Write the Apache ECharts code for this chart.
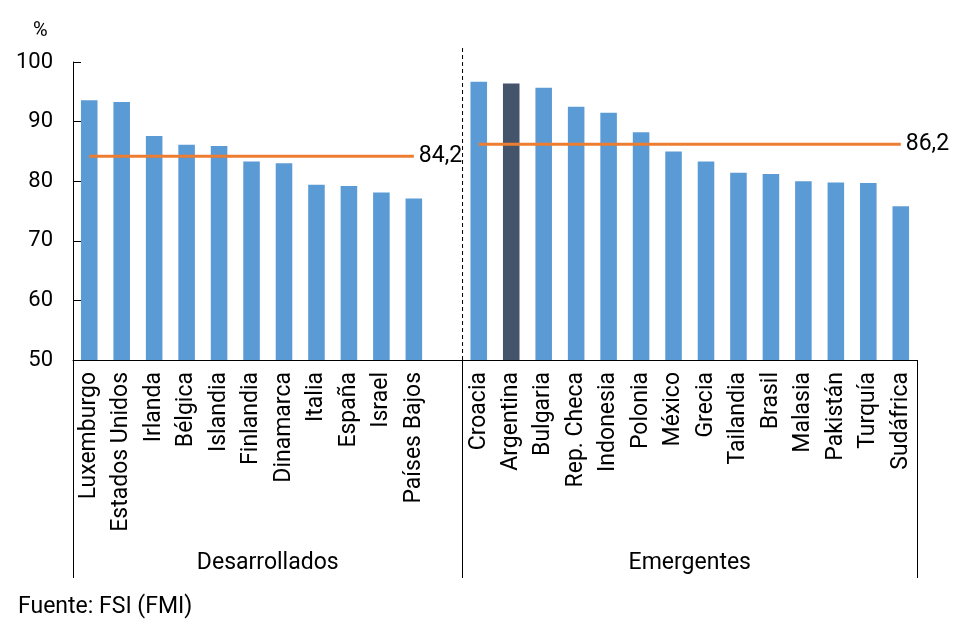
<!DOCTYPE html>
<html>
<head>
<meta charset="utf-8">
<script src="https://cdn.jsdelivr.net/npm/echarts@6/dist/echarts.min.js"></script>
<style>html,body{margin:0;padding:0;background:#fff}#c{width:960px;height:636px}</style>
</head>
<body>
<div id="c"></div>
<script>
// ---- data ----
var devCountries = ['Luxemburgo','Estados Unidos','Irlanda','Bélgica','Islandia','Finlandia','Dinamarca','Italia','España','Israel','Países Bajos'];
var devValues = [93.6, 93.3, 87.6, 86.1, 85.9, 83.3, 83.0, 79.4, 79.2, 78.1, 77.1];
var emCountries = ['Croacia','Argentina','Bulgaria','Rep. Checa','Indonesia','Polonia','México','Grecia','Tailandia','Brasil','Malasia','Pakistán','Turquía','Sudáfrica'];
var emValues = [96.7, 96.4, 95.7, 92.5, 91.5, 88.2, 85.0, 83.3, 81.4, 81.2, 80.0, 79.8, 79.7, 75.8];
var groupNames = ['Desarrollados', 'Emergentes'];
var avgDev = 84.2;
var avgEm = 86.2;
var highlightCountry = 'Argentina';
var yTicks = [50, 60, 70, 80, 90, 100];
var sourceText = 'Fuente: FSI (FMI)';

// ---- build ----
var categories = devCountries.concat(['']).concat(emCountries);
var nSlots = categories.length;
var splitAt = devCountries.length + 1; // boundary between groups (slot units)
var groupCenters = [splitAt / 2, splitAt + emCountries.length / 2];

var barData = devValues.concat([null]).concat(emValues).map(function (v, i) {
  if (v === null) return null;
  return {
    value: v,
    itemStyle: { color: categories[i] === highlightCountry ? '#44546A' : '#5B9BD5' }
  };
});

function avgLine(avg, start, count) {
  var arr = [];
  for (var i = 0; i < nSlots; i++) {
    if (i >= start && i < start + count) {
      var item = { value: avg };
      if (i === start + count - 1) item.label = { show: true };
      arr.push(item);
    } else arr.push(null);
  }
  return arr;
}
var devLine = avgLine(avgDev, 0, devCountries.length);
var emLine = avgLine(avgEm, splitAt, emCountries.length);

var FONT = 'Roboto';
var chart = echarts.init(document.getElementById('c'), null, { renderer: 'canvas' });

var lineLabel = {
  show: false,
  position: 'right',
  distance: 5,
  color: '#000',
  fontFamily: FONT,
  fontSize: 23,
  formatter: function (p) { return String(p.value).replace('.', ','); }
};

chart.setOption({
  animation: false,
  textStyle: { fontFamily: FONT },
  title: [
    { text: '%', left: 28, top: 16, textStyle: { fontFamily: FONT, fontSize: 20, fontWeight: 'normal', color: '#000' } },
    { text: sourceText, left: 13, top: 591, textStyle: { fontFamily: FONT, fontSize: 23, fontWeight: 'normal', color: '#000' } }
  ],
  grid: { left: 73, right: 43, top: 62, bottom: 276, containLabel: false },
  xAxis: [
    {
      type: 'category',
      data: categories,
      axisLine: { lineStyle: { color: '#000', width: 1 } },
      axisTick: { show: false },
      axisLabel: { interval: 0, rotate: 90, margin: 12, color: '#000', fontFamily: FONT, fontSize: 23 }
    },
    {
      type: 'value',
      min: 0,
      max: nSlots,
      position: 'bottom',
      offset: 218,
      axisLine: { show: false },
      splitLine: { show: false },
      axisTick: { show: true, inside: true, length: 218, customValues: [0, splitAt, nSlots], lineStyle: { color: '#000', width: 1 } },
      axisLabel: {
        show: true, inside: true, margin: 3, customValues: groupCenters,
        color: '#000', fontFamily: FONT, fontSize: 23,
        formatter: function (v) { var k = groupCenters.indexOf(v); return k >= 0 ? groupNames[k] : ''; }
      }
    }
  ],
  yAxis: {
    type: 'value',
    min: yTicks[0],
    max: yTicks[yTicks.length - 1],
    interval: 10,
    axisLine: { show: true, lineStyle: { color: '#000', width: 1 } },
    axisTick: { show: true, inside: true, length: 8, lineStyle: { color: '#000' } },
    splitLine: { show: false },
    axisLabel: { margin: 20, color: '#000', fontFamily: FONT, fontSize: 22 }
  },
  series: [
    {
      type: 'bar',
      data: barData,
      barWidth: '51%',
      itemStyle: { color: '#5B9BD5' }
    },
    {
      type: 'line',
      data: devLine,
      symbol: 'circle', symbolSize: 0, showSymbol: true,
      connectNulls: false,
      lineStyle: { color: '#ED7D31', width: 3 },
      itemStyle: { color: '#ED7D31' },
      label: lineLabel,
      z: 5
    },
    {
      type: 'line',
      data: emLine,
      symbol: 'circle', symbolSize: 0, showSymbol: true,
      connectNulls: false,
      lineStyle: { color: '#ED7D31', width: 3 },
      itemStyle: { color: '#ED7D31' },
      label: lineLabel,
      z: 5
    },
    {
      type: 'line',
      xAxisIndex: 1,
      data: [[splitAt, yTicks[0]], [splitAt, 102.7]],
      symbol: 'none',
      clip: false,
      lineStyle: { color: '#000', width: 1, type: [4, 3] },
      z: 1
    }
  ]
});
</script>
</body>
</html>
